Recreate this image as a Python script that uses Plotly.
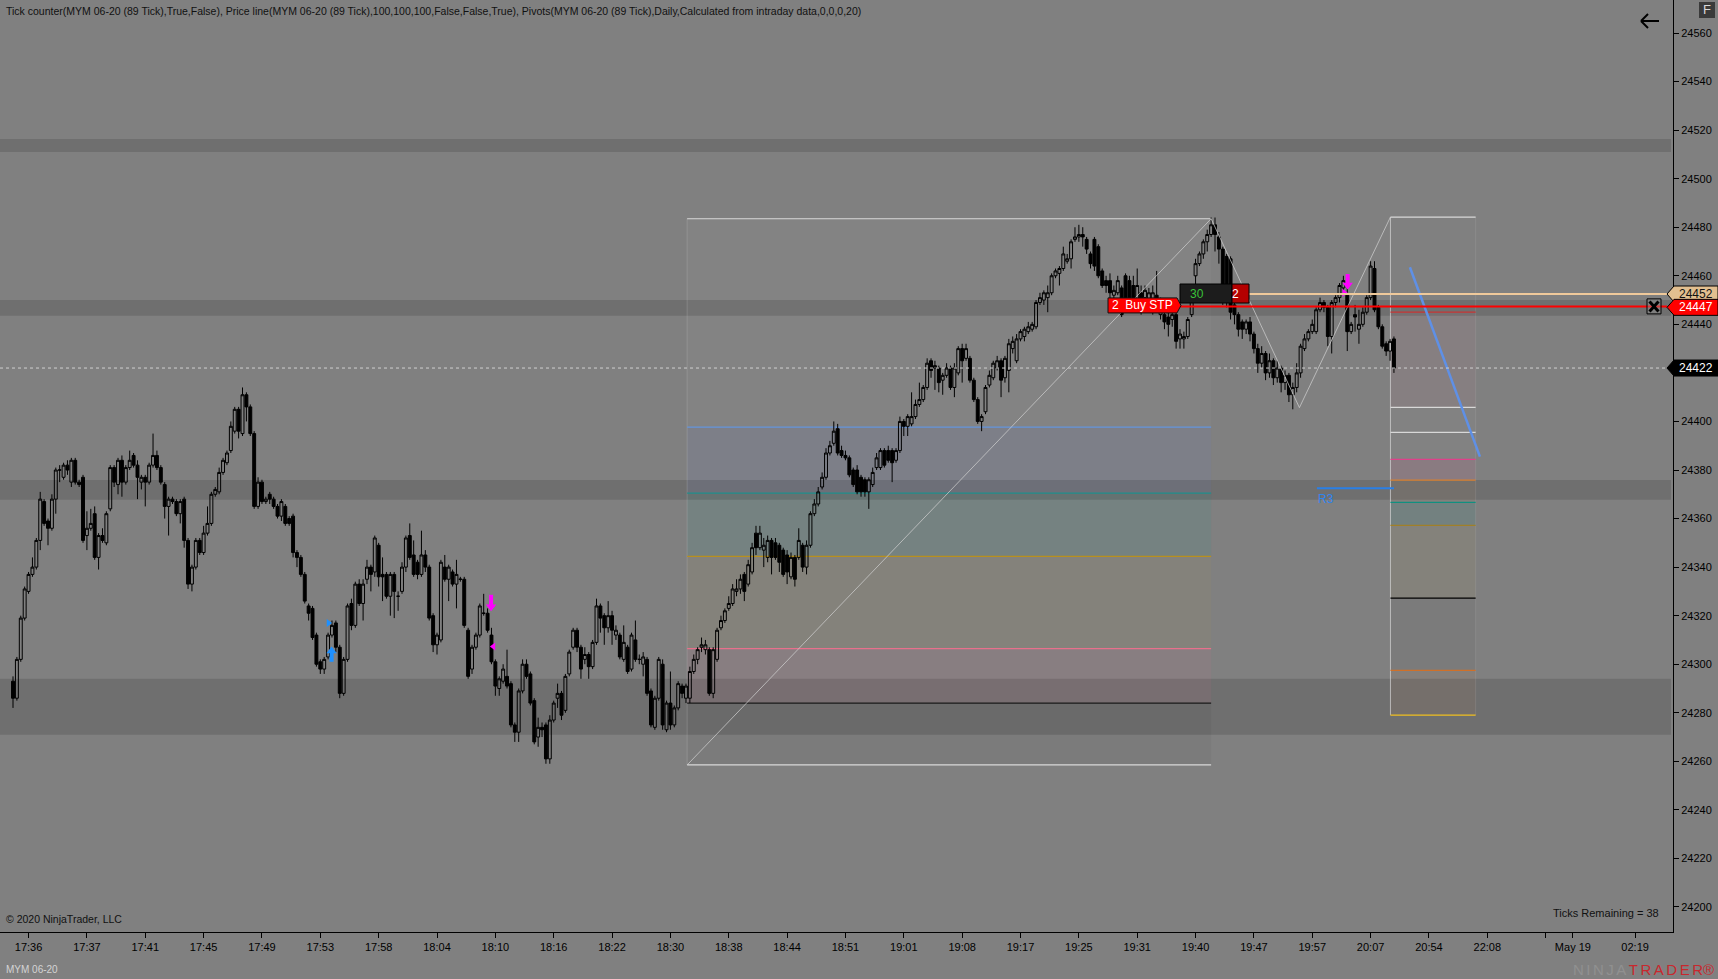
import plotly.graph_objects as go

# ---------------- data ----------------
BASE = 24000
OPEN = [293,286,302,319,330,337,340,351,367,359,356,368,380,377,382,375,384,375,377,353,
        356,362,344,353,350,364,381,374,384,375,381,386,382,375,377,375,382,386,381,374,
        365,368,367,362,368,351,333,340,351,346,354,358,370,371,379,383,388,396,405,395,
        411,406,395,365,375,367,370,368,365,361,365,360,361,346,344,337,324,323,312,301,
        298,303,312,317,307,288,302,
        325,316,333,325,335,340,338,349,337,337,328,337,328,330,340,353,345,342,337,345,
        340,320,308,310,340,335,338,333,335,335,314,298,307,312,321,321,312,301,290,293,
        295,292,275,272,289,300,296,285,270,274,275,261,277,286,288,281,296,307,314,307,
        302,304,299,309,324,320,315,320,312,312,302,307,298,310,302,300,302,289,274,286,
        300,273,284,275,282,291,
        286,286,297,302,307,306,306,288,302,315,318,323,325,330,331,337,333,338,354,348,
        347,344,351,350,349,347,345,336,344,344,349,340,349,362,366,373,377,387,391,397,
        388,386,385,380,380,377,376,371,374,381,381,388,388,388,384,388,400,398,399,402,
        407,409,414,425,422,422,417,419,422,414,420,430,426,426,417,409,400,404,415,418,
        422,425,418,421,430,425,434,435,437,438,439,449,450,451,453,460,461,463,466,467,
        475,476,477,475,469,475,472,462,458,458,452,453,455,460,458,456,450,453,451,449,
        449,452,444,444,443,442,444,434,434,435,444,460,465,469,474,477,481,476,471,468,
        467,448,444,441,438,
        441,436,430,424,428,420,425,418,422,416,419,411,414,
        420,430,434,437,437,446,449,447,435,449,451,455,452,437,444,438,440,445,451,463,
        447,439,432,429,434]
HIGH = [295,303,320,332,338,344,352,371,368,360,370,381,382,383,384,385,385,376,378,363,
        364,365,354,356,363,382,382,385,386,382,388,387,384,378,378,383,395,388,382,375,
        369,369,368,368,369,352,341,352,352,357,365,371,373,381,385,388,400,406,406,414,
        412,407,396,377,376,369,371,369,366,368,366,361,362,347,345,338,325,324,313,302,
        303,313,318,318,308,303,325,
        327,334,335,335,343,341,353,350,344,338,338,338,330,342,353,358,351,343,355,347,
        341,321,313,343,345,341,339,343,336,336,315,308,313,325,329,323,315,302,295,300,
        306,293,276,290,302,302,297,286,278,276,276,279,285,292,289,296,306,315,315,308,
        307,305,310,327,325,321,326,322,316,313,316,308,313,318,304,305,303,290,287,303,
        302,285,297,283,293,292,
        292,299,304,307,311,310,307,307,315,320,323,328,333,335,337,338,343,350,357,357,
        352,353,352,352,350,348,347,346,345,356,350,351,363,368,373,379,389,392,400,399,
        390,388,386,381,382,378,377,377,381,387,389,389,390,389,389,402,401,403,412,409,
        416,415,426,426,425,423,420,424,423,424,431,432,432,427,418,410,403,415,421,425,
        427,426,427,434,435,436,438,439,441,441,450,453,454,456,461,463,464,472,469,475,
        480,481,480,476,470,476,473,463,460,461,456,460,456,461,460,460,463,456,456,455,
        456,462,451,446,445,445,445,438,437,443,456,467,470,475,479,484,484,478,472,469,
        468,449,445,442,442,
        443,437,432,431,429,428,426,425,423,421,420,416,424,
        432,436,438,442,447,451,450,448,450,452,457,460,458,441,448,446,447,452,466,466,
        448,440,433,434,435]
LOW = [282,285,301,318,329,336,339,347,357,349,355,362,375,376,378,373,374,373,350,347,
       355,343,339,350,349,363,373,370,369,374,380,381,368,372,365,374,381,380,374,360,
       353,366,361,358,348,331,330,339,345,345,353,357,369,370,378,382,387,395,393,394,
       400,394,364,364,366,366,366,364,360,359,357,357,344,340,336,325,318,310,299,296,
       296,302,311,305,286,287,301,
       314,315,324,318,333,330,336,332,326,327,320,319,322,329,338,343,336,335,336,338,
       318,305,304,309,334,326,332,323,334,315,294,296,306,311,320,313,300,287,287,292,
       290,274,268,268,288,294,283,267,266,270,259,259,276,282,277,280,295,306,305,294,
       300,294,298,308,313,308,313,308,310,302,301,296,297,301,300,295,287,274,273,285,
       273,272,273,274,281,286,
       284,284,296,300,305,304,287,286,301,314,317,322,324,328,329,326,332,337,345,347,
       340,342,337,343,338,336,333,335,332,343,338,337,348,361,365,372,376,386,390,386,
       385,384,377,373,370,369,369,364,373,380,380,381,383,375,383,387,394,394,398,401,
       406,408,413,418,413,412,411,418,413,410,419,416,425,416,408,399,396,403,414,417,
       421,410,416,412,428,424,433,433,436,437,438,448,448,445,452,459,456,462,465,463,
       474,474,472,469,463,462,459,455,453,450,448,452,443,447,447,445,445,444,447,446,
       444,446,442,438,435,439,430,430,430,434,443,452,464,467,470,476,470,465,448,447,
       442,440,435,434,436,
       433,428,420,422,417,418,415,416,412,413,408,405,412,
       418,429,433,436,436,445,445,431,428,447,449,453,429,436,437,432,439,444,450,445,
       438,430,427,425,420]
CLOSE = [286,302,319,331,337,340,351,368,358,356,368,380,380,382,380,384,375,374,351,356,
         358,344,353,351,362,381,375,384,375,381,384,382,377,377,375,382,386,381,375,365,
         368,367,362,367,351,333,340,351,346,354,358,370,372,379,384,387,398,405,396,411,
         406,395,365,375,367,368,368,365,361,367,358,358,346,344,337,326,321,311,300,298,
         302,312,316,307,288,302,324,
         316,333,325,333,340,337,352,336,336,328,337,330,328,340,352,344,337,337,345,340,
         319,308,312,342,335,340,333,337,335,316,295,307,312,324,321,314,301,291,294,298,
         291,275,272,289,300,295,284,268,274,273,261,277,284,288,279,295,305,314,307,298,
         304,299,309,324,319,315,320,314,314,303,309,297,312,302,302,303,288,275,286,302,
         275,284,275,282,292,288,
         291,297,302,306,308,308,288,306,314,318,322,325,331,331,335,330,341,348,348,354,
         349,351,344,344,342,337,338,344,335,351,340,349,362,366,371,377,387,390,396,387,
         386,385,378,374,371,371,371,376,379,385,388,382,384,383,388,400,398,402,402,407,
         409,414,424,421,423,416,419,422,414,422,430,425,430,417,409,400,402,414,419,424,
         425,417,426,432,433,434,437,438,439,440,449,451,453,453,460,462,463,469,467,474,
         476,477,476,471,465,464,460,456,456,453,454,458,444,450,450,451,456,449,454,453,
         453,448,450,441,440,444,433,436,435,442,453,465,469,474,477,481,477,471,449,450,
         445,444,438,438,441,
         436,430,424,428,420,425,418,422,416,419,411,414,420,
         431,434,437,440,446,449,447,435,449,451,456,458,437,440,443,440,445,451,464,446,
         439,431,429,433,422]

TIME_LABELS = ["17:36","17:37","17:41","17:45","17:49","17:53","17:58","18:04","18:10",
               "18:16","18:22","18:30","18:38","18:44","18:51","19:01","19:08","19:17",
               "19:25","19:31","19:40","19:47","19:57","20:07","20:54","22:08","",
               "May 19","02:19"]
TICK_BARS = [4,19,34,49,64,79,94,109,124,139,154,169,184,199,214,229,244,259,274,289,
             304,319,334,349,364,379,394,401,417]
Y_TICKS = list(range(24200, 24561, 20))

PIVOT_BANDS = [(24511.0, 24516.3), (24443.5, 24450.0), (24367.7, 24375.9), (24270.9, 24294.0)]

# Fibonacci retracement (left) and extension (right) drawings
FIB_ANCHOR_BARS = [173.3, 308.0, 330.7, 354.1]
FIB_ANCHOR_PRICES = [24258.5, 24483.5, 24405.7, 24484.2]
LEFT_FIB_BARS = (173.3, 308.0)
LEFT_FIB_PRICES = [24483.5, 24397.7, 24370.5, 24344.4, 24306.4, 24284.0, 24258.5]
LEFT_FIB_COLORS = ['#d8d8d8', '#6495dc', '#1f8f8c', '#b8901e', '#e8708c', '#1a1a1a', '#d8d8d8']
LEFT_FIB_FILLS = ['rgba(255,255,255,0.025)', 'rgba(100,120,210,0.10)', 'rgba(20,150,140,0.10)',
                  'rgba(190,150,60,0.07)', 'rgba(230,100,140,0.08)', 'rgba(0,0,0,0.04)']
RIGHT_FIB_BARS = (354.1, 376.0)
RIGHT_FIB_PRICES = [24484.2, 24445.0, 24405.8, 24395.5, 24384.4, 24375.8, 24366.7,
                    24357.2, 24327.2, 24297.5, 24279.0]
RIGHT_FIB_COLORS = ['#d8d8d8', '#c83434', '#d8d8d8', '#d8d8d8', '#e0408a', '#d88030',
                    '#109080', '#a08028', '#000000', '#d07028', '#f0c020']
RIGHT_FIB_FILLS = [None, 'rgba(210,110,140,0.07)', 'rgba(255,255,255,0.02)', 'rgba(255,255,255,0.02)',
                   'rgba(230,80,140,0.10)', 'rgba(220,130,50,0.05)', 'rgba(0,140,130,0.10)',
                   'rgba(180,150,60,0.07)', 'rgba(0,0,0,0.04)', 'rgba(220,120,50,0.06)']

TREND_BARS = [359.1, 377.1]
TREND_PRICES = [24463.5, 24385.5]

R3_PRICE = 24372.5
R3_BARS = (335.2, 355.0)

LAST_PRICE = 24422
ORDER_PRICE = 24447
POSITION_PRICE = 24452
ORDER_QTY = 2
POSITION_TICKS = 30
TICKS_REMAINING = 38

UP_ARROWS = [(81.9, 24301.0, 24306.7)]
DOWN_ARROWS = [(122.9, 24328.6, 24322.4), (343.1, 24460.7, 24455.0)]
BLUE_TRI_RIGHT = [(81.1, 24317.0)]
MAG_TRI_RIGHT = [(342.2, 24453.0)]
MAG_TRI_LEFT = [(123.5, 24307.3)]

TITLE = ("Tick counter(MYM 06-20 (89 Tick),True,False), Price line(MYM 06-20 (89 Tick),"
         "100,100,100,False,False,True), Pivots(MYM 06-20 (89 Tick),Daily,Calculated from "
         "intraday data,0,0,0,20)")

# ---------------- geometry helpers ----------------
W, H = 1718, 979
PLOT_W, PLOT_H = 1673, 932
X0_PX, BAR_PX = 13.0, 3.89
Y_MIN, Y_MAX = 24189.7, 24573.6
PX_PER_PT = PLOT_H / (Y_MAX - Y_MIN)
FONT = "Liberation Sans, Arial, sans-serif"
BG = '#808080'


def bx(px):
    return (px - X0_PX) / BAR_PX


def xp(px):
    return px / PLOT_W


def yp(py):
    return 1 - py / PLOT_H


def pts(npx):
    return npx / PX_PER_PT


O = [BASE + v for v in OPEN]
Hh = [BASE + v for v in HIGH]
L = [BASE + v for v in LOW]
C = [BASE + v for v in CLOSE]
X = list(range(len(O)))

shapes = []
ann = []

# pivot bands
for lo, hi in PIVOT_BANDS:
    shapes.append(dict(type='rect', xref='paper', yref='y', x0=0, x1=xp(1671), y0=lo, y1=hi,
                       fillcolor='rgba(0,0,0,0.135)', line=dict(width=0), layer='below'))

# left fib
lx0, lx1 = LEFT_FIB_BARS
for i, fc in enumerate(LEFT_FIB_FILLS):
    shapes.append(dict(type='rect', xref='x', yref='y', x0=lx0, x1=lx1,
                       y0=LEFT_FIB_PRICES[i + 1], y1=LEFT_FIB_PRICES[i],
                       fillcolor=fc, line=dict(width=0), layer='below'))
shapes.append(dict(type='line', xref='x', yref='y', x0=lx0, x1=lx0,
                   y0=LEFT_FIB_PRICES[-1], y1=LEFT_FIB_PRICES[0],
                   line=dict(color='rgba(200,200,200,0.25)', width=1), layer='below'))
for p, col in zip(LEFT_FIB_PRICES, LEFT_FIB_COLORS):
    shapes.append(dict(type='line', xref='x', yref='y', x0=lx0, x1=lx1, y0=p, y1=p,
                       line=dict(color=col, width=1.2), layer='below'))

# right fib
rx0, rx1 = RIGHT_FIB_BARS
for i, fc in enumerate(RIGHT_FIB_FILLS):
    if fc is None:
        continue
    shapes.append(dict(type='rect', xref='x', yref='y', x0=rx0, x1=rx1,
                       y0=RIGHT_FIB_PRICES[i + 1], y1=RIGHT_FIB_PRICES[i],
                       fillcolor=fc, line=dict(width=0), layer='below'))
shapes.append(dict(type='line', xref='x', yref='y', x0=rx0, x1=rx0,
                   y0=RIGHT_FIB_PRICES[-1], y1=RIGHT_FIB_PRICES[0],
                   line=dict(color='rgba(215,215,215,0.7)', width=1), layer='below'))
shapes.append(dict(type='line', xref='x', yref='y', x0=rx1, x1=rx1,
                   y0=RIGHT_FIB_PRICES[-1], y1=RIGHT_FIB_PRICES[0],
                   line=dict(color='rgba(200,200,200,0.15)', width=1), layer='below'))
for p, col in zip(RIGHT_FIB_PRICES, RIGHT_FIB_COLORS):
    shapes.append(dict(type='line', xref='x', yref='y', x0=rx0, x1=rx1, y0=p, y1=p,
                       line=dict(color=col, width=1.2), layer='below'))

# R3 pivot
shapes.append(dict(type='line', xref='x', yref='y', x0=R3_BARS[0], x1=R3_BARS[1],
                   y0=R3_PRICE, y1=R3_PRICE, line=dict(color='#2a7fe6', width=2), layer='above'))
ann.append(dict(text='R3', xref='x', yref='y', x=R3_BARS[0] - 0.3, y=R3_PRICE - pts(1.5),
                xanchor='left', yanchor='top', showarrow=False,
                font=dict(family=FONT, size=12, color='#2f84ee')))

# price lines
shapes.append(dict(type='line', xref='paper', yref='y', x0=0, x1=xp(1667), y0=LAST_PRICE,
                   y1=LAST_PRICE, line=dict(color='#cfcfcf', width=1, dash='3px,3px'), layer='above'))
shapes.append(dict(type='line', xref='paper', yref='y', x0=xp(1249), x1=xp(1667),
                   y0=POSITION_PRICE + 0.5, y1=POSITION_PRICE + 0.5,
                   line=dict(color='#efc99b', width=2), layer='above'))
shapes.append(dict(type='line', xref='paper', yref='y', x0=xp(1180), x1=xp(1667),
                   y0=ORDER_PRICE + 0.3, y1=ORDER_PRICE + 0.3,
                   line=dict(color='#ff0000', width=2), layer='above'))

# Buy STP label
yc = ORDER_PRICE + 0.8
hh = pts(7.5)
shapes.append(dict(type='path', xref='paper', yref='y', layer='above',
                   path=f"M {xp(1108)} {yc+hh} L {xp(1177)} {yc+hh} L {xp(1181)} {yc} "
                        f"L {xp(1177)} {yc-hh} L {xp(1108)} {yc-hh} Z",
                   fillcolor='#ff0000', line=dict(color='#111', width=1)))
ann.append(dict(text=f"{ORDER_QTY}\u00a0\u00a0Buy STP", xref='paper', yref='y', x=xp(1142), y=yc,
                showarrow=False, xanchor='center', yanchor='middle',
                font=dict(family=FONT, size=12, color='white')))

# position box (30 | 2)
pc = POSITION_PRICE + 0.7
ph = pts(9.5)
shapes.append(dict(type='rect', xref='paper', yref='y', x0=xp(1180), x1=xp(1232), y0=pc - ph,
                   y1=pc + ph, fillcolor='#1c1c1c', line=dict(color='#000', width=1), layer='above'))
shapes.append(dict(type='rect', xref='paper', yref='y', x0=xp(1232), x1=xp(1249), y0=pc - ph,
                   y1=pc + ph, fillcolor='#b40000', line=dict(color='#000', width=1), layer='above'))
ann.append(dict(text=str(POSITION_TICKS), xref='paper', yref='y', x=xp(1206), y=pc, showarrow=False,
                font=dict(family=FONT, size=12, color='#39c339')))
ann.append(dict(text=str(ORDER_QTY), xref='paper', yref='y', x=xp(1240.5), y=pc, showarrow=False,
                font=dict(family=FONT, size=12, color='white')))

# close (X) button on order line
xc = ORDER_PRICE + 0.4
xh = pts(7.5)
shapes.append(dict(type='rect', xref='paper', yref='y', x0=xp(1647), x1=xp(1661), y0=xc - xh,
                   y1=xc + xh, fillcolor='rgba(150,150,150,0.4)', line=dict(color='#000', width=1),
                   layer='above'))
for a, b in [((1649.5, xc + pts(5)), (1658.5, xc - pts(5))), ((1649.5, xc - pts(5)), (1658.5, xc + pts(5)))]:
    shapes.append(dict(type='line', xref='paper', yref='y', x0=xp(a[0]), y0=a[1], x1=xp(b[0]), y1=b[1],
                       line=dict(color='#000', width=3), layer='above'))

# right axis tags
for price, fill, txt in [(POSITION_PRICE + 0.5, '#e2bf90', '#111'), (ORDER_PRICE, '#ff0000', 'white'),
                         (LAST_PRICE, '#000000', 'white')]:
    th = pts(8)
    shapes.append(dict(type='path', xref='paper', yref='y', layer='above',
                       path=f"M {xp(1667)} {price} L {xp(1674)} {price+th} L {xp(1718)} {price+th} "
                            f"L {xp(1718)} {price-th} L {xp(1674)} {price-th} Z",
                       fillcolor=fill, line=dict(color='#000', width=1)))
    ann.append(dict(text=str(int(round(price))), xref='paper', yref='y', x=xp(1696), y=price,
                    showarrow=False, xanchor='center', yanchor='middle',
                    font=dict(family=FONT, size=12, color=txt)))

# back arrow (top right)
for (a, b) in [((1641, 21), (1659, 21)), ((1641, 21), (1648, 14)), ((1641, 21), (1648, 28))]:
    shapes.append(dict(type='line', xref='paper', yref='paper', x0=xp(a[0]), y0=yp(a[1]),
                       x1=xp(b[0]), y1=yp(b[1]), line=dict(color='#000', width=2), layer='above'))
# F button
shapes.append(dict(type='rect', xref='paper', yref='paper', x0=xp(1699), x1=xp(1715), y0=yp(18),
                   y1=yp(2), fillcolor='#3a3a3a', line=dict(width=0), layer='above'))
ann.append(dict(text='F', xref='paper', yref='paper', x=xp(1707), y=yp(10), showarrow=False,
                xanchor='center', yanchor='middle',
                font=dict(family=FONT, size=13, color='#d8d8d8')))

# texts
ann.append(dict(text=TITLE, xref='paper', yref='paper', x=xp(4), y=yp(11), xanchor='left',
                yanchor='middle', showarrow=False, font=dict(family=FONT, size=10.5, color='#111')))
ann.append(dict(text='© 2020 NinjaTrader, LLC', xref='paper', yref='paper', x=xp(4), y=yp(919),
                xanchor='left', yanchor='middle', showarrow=False,
                font=dict(family=FONT, size=10.5, color='#111')))
ann.append(dict(text=f'Ticks Remaining = {TICKS_REMAINING}', xref='paper', yref='paper', x=xp(1661),
                y=yp(913), xanchor='right', yanchor='middle', showarrow=False,
                font=dict(family=FONT, size=11, color='#111')))
ann.append(dict(text='MYM 06-20', xref='paper', yref='paper', x=xp(4), y=yp(969), xanchor='left',
                yanchor='middle', showarrow=False, font=dict(family=FONT, size=10, color='#d4d4d4')))
ann.append(dict(text="<span style='color:#909090'>N\u2006I\u2006N\u2006J\u2006A</span>"
                     "<span style='color:#c8282e'>\u2006T\u2006R\u2006A\u2006D\u2006E\u2006R®</span>",
                xref='paper', yref='paper', x=xp(1716), y=yp(969), xanchor='right', yanchor='middle',
                showarrow=False, font=dict(family=FONT, size=15)))

# ---------------- traces ----------------
fig = go.Figure()
fig.add_trace(go.Scatter(x=FIB_ANCHOR_BARS, y=FIB_ANCHOR_PRICES, mode='lines',
                         line=dict(color='rgba(205,205,205,0.75)', width=1), hoverinfo='skip'))
fig.add_trace(go.Candlestick(x=X, open=O, high=Hh, low=L, close=C, whiskerwidth=0,
                             increasing=dict(line=dict(color='#000', width=1), fillcolor='rgba(0,0,0,0)'),
                             decreasing=dict(line=dict(color='#000', width=1), fillcolor='#000'),
                             hoverinfo='skip'))
fig.add_trace(go.Scatter(x=TREND_BARS, y=TREND_PRICES, mode='lines',
                         line=dict(color='#5f90e6', width=2.5), hoverinfo='skip'))

# signal arrows
for bar, tail, tip in UP_ARROWS:
    fig.add_trace(go.Scatter(x=[bar, bar], y=[tail, tip - pts(4)], mode='lines',
                             line=dict(color='#1e90ff', width=4), hoverinfo='skip'))
    fig.add_trace(go.Scatter(x=[bar], y=[tip - pts(3)], mode='markers',
                             marker=dict(symbol='triangle-up', size=9, color='#1e90ff'), hoverinfo='skip'))
for bar, tail, tip in DOWN_ARROWS:
    fig.add_trace(go.Scatter(x=[bar, bar], y=[tail, tip + pts(4)], mode='lines',
                             line=dict(color='#ff00ff', width=4), hoverinfo='skip'))
    fig.add_trace(go.Scatter(x=[bar], y=[tip + pts(3)], mode='markers',
                             marker=dict(symbol='triangle-down', size=9, color='#ff00ff'), hoverinfo='skip'))
for pts_list, sym, col in [(BLUE_TRI_RIGHT, 'triangle-right', '#1e90ff'),
                           (MAG_TRI_RIGHT, 'triangle-right', '#ff00ff'),
                           (MAG_TRI_LEFT, 'triangle-left', '#ff00ff')]:
    fig.add_trace(go.Scatter(x=[p[0] for p in pts_list], y=[p[1] for p in pts_list], mode='markers',
                             marker=dict(symbol=sym, size=7, color=col), hoverinfo='skip'))

# the 24420 tick label sits underneath the last-price tag in the original
Y_TICKTEXT = ['' if v == 24420 else str(v) for v in Y_TICKS]

fig.update_layout(
    width=W, height=H, margin=dict(l=0, r=W - PLOT_W, t=0, b=H - PLOT_H, pad=0),
    paper_bgcolor=BG, plot_bgcolor=BG, showlegend=False,
    shapes=shapes, annotations=ann, boxgap=0.25, boxgroupgap=0,
    xaxis=dict(range=[bx(0), bx(PLOT_W)], tickmode='array', tickvals=TICK_BARS, ticktext=TIME_LABELS,
               ticks='outside', ticklen=5, tickcolor='#000', showline=True, linecolor='#000',
               linewidth=1, showgrid=False, zeroline=False, rangeslider=dict(visible=False),
               tickfont=dict(family=FONT, size=11, color='#000'), fixedrange=True),
    yaxis=dict(side='right', range=[Y_MIN, Y_MAX], tickmode='array', tickvals=Y_TICKS,
               ticktext=Y_TICKTEXT, ticks='outside', ticklen=5, tickcolor='#000',
               showline=True, linecolor='#000', linewidth=1, showgrid=False, zeroline=False,
               tickfont=dict(family=FONT, size=11, color='#000'), fixedrange=True),
)

fig.write_html("out.html", config=dict(displayModeBar=False),
               post_script="document.body.style.margin='0';document.body.style.overflow='hidden';")
